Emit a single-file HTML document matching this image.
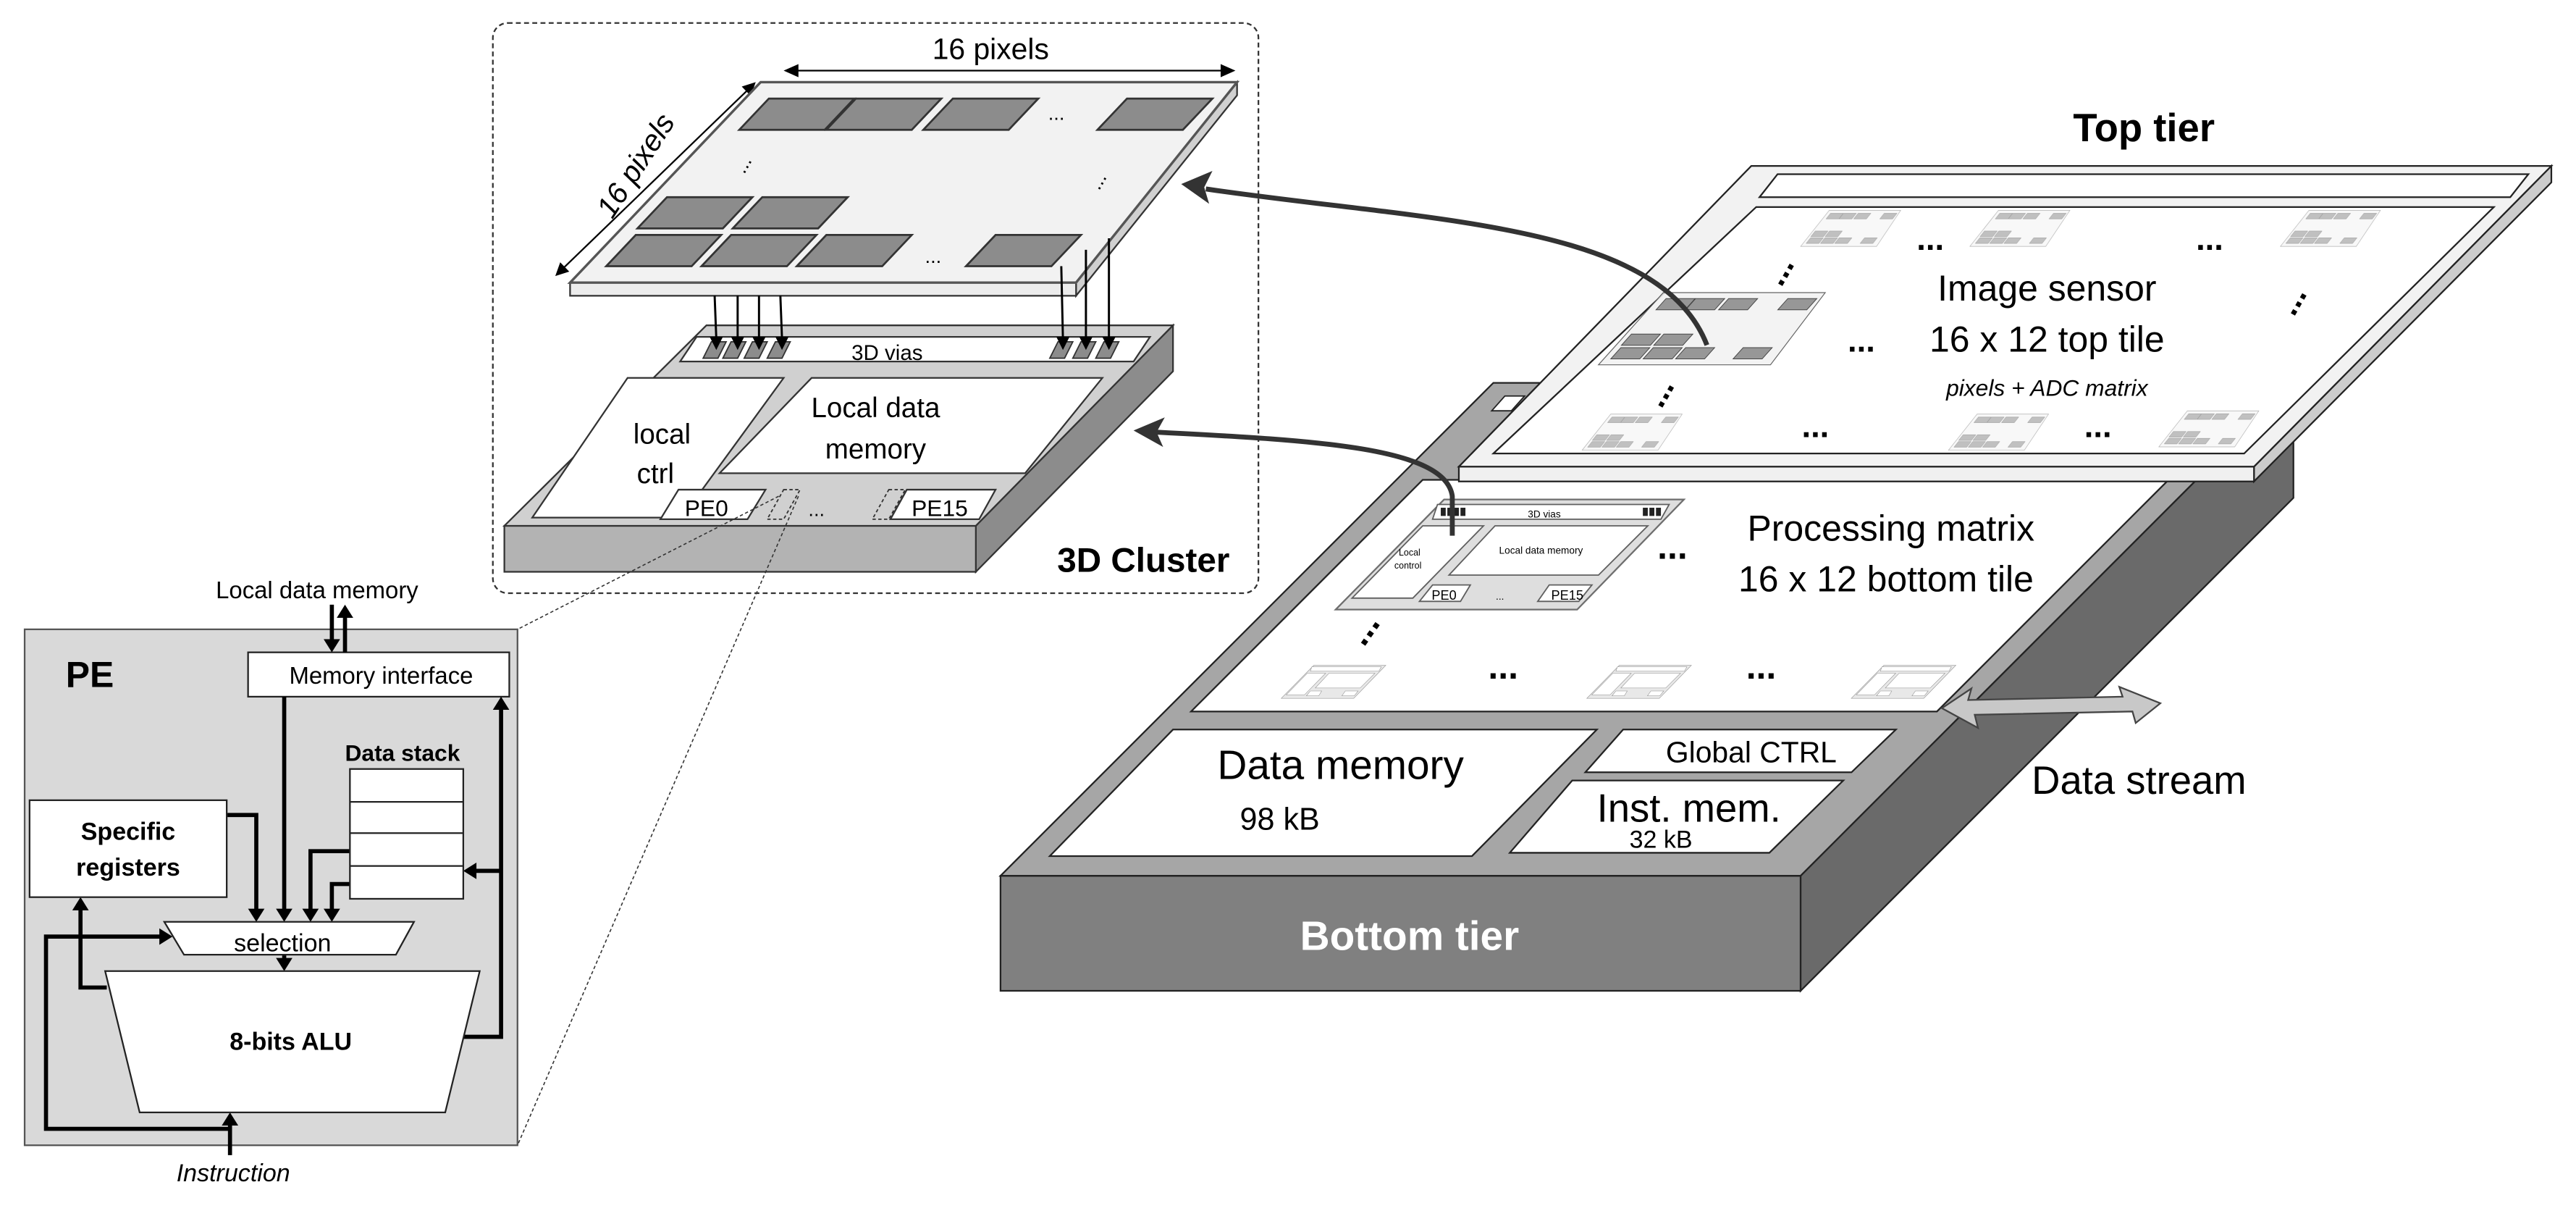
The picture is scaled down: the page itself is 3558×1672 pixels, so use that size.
<!DOCTYPE html>
<html><head><meta charset="utf-8"><style>
html,body{margin:0;padding:0;background:#fff;}
svg{display:block;}
text{font-family:"Liberation Sans",sans-serif;}
</style></head><body>
<svg width="3558" height="1672" viewBox="0 0 1568 737" preserveAspectRatio="none" xmlns="http://www.w3.org/2000/svg">
<defs>
<g id="pt">
<polygon points="463,50 753,50 655,172 347,172" fill="#f2f2f2" stroke="#555" stroke-width="1.5"/>
<g fill="#8c8c8c" stroke="#333" stroke-width="1.2">
<polygon points="468,60 520,60 502,79 450,79"/><polygon points="521,60 573,60 555,79 503,79"/><polygon points="580,60 632,60 614,79 562,79"/><polygon points="686,60 738,60 720,79 668,79"/>
<polygon points="406,120 458,120 440,139 388,139"/><polygon points="464,120 516,120 498,139 446,139"/>
<polygon points="387,143 439,143 421,162 369,162"/><polygon points="445,143 497,143 479,162 427,162"/><polygon points="503,143 555,143 537,162 485,162"/><polygon points="606,143 658,143 640,162 588,162"/>
</g></g>
<g id="ct">
<polygon points="879,304 1025,304 960,371 813,371" fill="#d9d9d9" stroke="#555" stroke-width="1"/>
<polygon points="875,307 1016,307 1011,316 872,316" fill="#fff" stroke="#444" stroke-width="0.8"/>
<polygon points="866,320 903,320 860,364 823,364" fill="#fff" stroke="#444" stroke-width="0.8"/>
<polygon points="910,320 1003,320 973,350 882,350" fill="#fff" stroke="#444" stroke-width="0.8"/>
<polygon points="872,356 895,356 889,366 864,366" fill="#fff" stroke="#444" stroke-width="0.8"/>
<polygon points="943,356 969,356 961,366 936,366" fill="#fff" stroke="#444" stroke-width="0.8"/>
</g>
</defs>

<!-- 3D cluster dashed box -->
<rect x="300" y="14" width="466" height="347" rx="9" fill="none" stroke="#333" stroke-width="1" stroke-dasharray="3,2"/>
<text x="603" y="36" font-size="18" text-anchor="middle">16 pixels</text>
<line x1="480" y1="43" x2="749" y2="43" stroke="#000" stroke-width="1"/>
<polygon points="477,43 486,39 486,47" fill="#000"/><polygon points="752,43 743,39 743,47" fill="#000"/>
<line x1="458" y1="52" x2="340" y2="166" stroke="#000" stroke-width="1"/>
<polygon points="460,50 457,58.4 451.5,52.7" fill="#000"/><polygon points="338,168 346.5,165.3 341,159.6" fill="#000"/>
<text x="0" y="0" font-size="18" font-style="italic" text-anchor="middle" transform="translate(392,104) rotate(-57)">16 pixels</text>
<!-- pixel plate -->
<polygon points="655,172 753,50 753,58 655,180" fill="#d0d0d0" stroke="#333" stroke-width="1"/>
<rect x="347" y="172" width="308" height="8" fill="#ececec" stroke="#333" stroke-width="1"/>
<use href="#pt"/>
<text x="643" y="73" font-size="12" text-anchor="middle">...</text>
<text x="568" y="160" font-size="12" text-anchor="middle">...</text>
<text x="452" y="104" font-size="12" text-anchor="middle" transform="rotate(-60 452 100)">...</text>
<text x="668" y="114" font-size="12" text-anchor="middle" transform="rotate(-60 668 110)">...</text>

<!-- cluster base -->
<polygon points="594,320 714,198 714,226 594,348" fill="#8c8c8c" stroke="#333" stroke-width="1"/>
<rect x="307" y="320" width="287" height="28" fill="#b3b3b3" stroke="#333" stroke-width="1"/>
<polygon points="430,198 714,198 594,320 307,320" fill="#d0d0d0" stroke="#333" stroke-width="1"/>
<polygon points="424,205 700,205 690,220 414,220" fill="#fff" stroke="#333" stroke-width="1"/>
<g fill="#8c8c8c" stroke="#333" stroke-width="0.8">
<polygon points="433,208 442,208 437,218 428,218"/><polygon points="445,208 454,208 449,218 440,218"/><polygon points="458,208 467,208 462,218 453,218"/><polygon points="472,208 481,208 476,218 467,218"/>
<polygon points="644,208 653,208 648,218 639,218"/><polygon points="658,208 667,208 662,218 653,218"/><polygon points="672,208 681,208 676,218 667,218"/>
</g>
<text x="540" y="219" font-size="13" text-anchor="middle">3D vias</text>
<g stroke="#000" stroke-width="1.3">
<line x1="435" y1="180" x2="436" y2="206"/><line x1="449" y1="180" x2="449" y2="206"/><line x1="462" y1="180" x2="462" y2="206"/><line x1="475" y1="180" x2="476" y2="206"/>
<line x1="646" y1="162" x2="647" y2="206"/><line x1="661" y1="152" x2="661" y2="206"/><line x1="675" y1="145" x2="675" y2="206"/>
</g>
<g fill="#000">
<polygon points="436,213 432,205 440,205"/><polygon points="449,213 445,205 453,205"/><polygon points="462,213 458,205 466,205"/><polygon points="476,213 472,205 480,205"/>
<polygon points="647,213 643,205 651,205"/><polygon points="661,213 657,205 665,205"/><polygon points="675,213 671,205 679,205"/>
</g>
<polygon points="382,230 477,230 415,315 324,315" fill="#fff" stroke="#333" stroke-width="1"/>
<text x="403" y="270" font-size="17" text-anchor="middle">local</text>
<text x="399" y="294" font-size="17" text-anchor="middle">ctrl</text>
<polygon points="494,230 671,230 624,288 438,288" fill="#fff" stroke="#333" stroke-width="1"/>
<text x="533" y="254" font-size="17" text-anchor="middle">Local data</text>
<text x="533" y="279" font-size="17" text-anchor="middle">memory</text>
<polygon points="413,298 466,298 455,316 402,316" fill="#fff" stroke="#333" stroke-width="1"/>
<text x="430" y="314" font-size="14" text-anchor="middle">PE0</text>
<polygon points="477,298 487,298 477,316 467,316" fill="none" stroke="#333" stroke-width="0.8" stroke-dasharray="2,1.5"/>
<polygon points="541,298 551,298 541,316 531,316" fill="none" stroke="#333" stroke-width="0.8" stroke-dasharray="2,1.5"/>
<polygon points="552,298 606,298 596,316 542,316" fill="#fff" stroke="#333" stroke-width="1"/>
<text x="572" y="314" font-size="14" text-anchor="middle">PE15</text>
<text x="497" y="314" font-size="12" text-anchor="middle">...</text>
<text x="696" y="348" font-size="21" font-weight="bold" text-anchor="middle">3D Cluster</text>

<!-- dotted zoom lines -->
<line x1="474" y1="302" x2="315" y2="383" stroke="#333" stroke-width="0.7" stroke-dasharray="2,1.5"/>
<line x1="486" y1="302" x2="315" y2="697" stroke="#333" stroke-width="0.7" stroke-dasharray="2,1.5"/>

<!-- PE -->
<text x="193" y="364" font-size="14.5" text-anchor="middle">Local data memory</text>
<rect x="15" y="383" width="300" height="314" fill="#d9d9d9" stroke="#555" stroke-width="1"/>
<text x="40" y="418" font-size="22" font-weight="bold">PE</text>
<rect x="151" y="397" width="159" height="27" fill="#fff" stroke="#222" stroke-width="1"/>
<text x="232" y="416" font-size="14.5" text-anchor="middle">Memory interface</text>
<g stroke="#000" stroke-width="2.5" fill="none">
<line x1="202" y1="368" x2="202" y2="390"/>
<line x1="210" y1="397" x2="210" y2="376"/>
<line x1="173" y1="424" x2="173" y2="554"/>
<polyline points="138,496 156,496 156,554"/>
<polyline points="213,518 189,518 189,554"/>
<polyline points="213,538 202,538 202,554"/>
<line x1="173" y1="581" x2="173" y2="585"/>
<polyline points="282,631 305,631 305,431"/>
<polyline points="305,530 289,530"/>
<polyline points="65,601 49,601 49,553"/>
<line x1="140" y1="703" x2="140" y2="684"/>
<polyline points="140,687 28,687 28,570 98,570"/>
</g>
<g fill="#000">
<polygon points="202,397 197,389 207,389"/>
<polygon points="210,368 205,376 215,376"/>
<polygon points="173,561 168,553 178,553"/>
<polygon points="156,561 151,553 161,553"/>
<polygon points="189,561 184,553 194,553"/>
<polygon points="202,561 197,553 207,553"/>
<polygon points="173,591 168,583 178,583"/>
<polygon points="305,424 300,432 310,432"/>
<polygon points="282,530 290,525 290,535"/>
<polygon points="49,546 44,554 54,554"/>
<polygon points="140,677 135,685 145,685"/>
<polygon points="105,570 97,565 97,575"/>
</g>
<text x="245" y="463" font-size="14" font-weight="bold" text-anchor="middle">Data stack</text>
<rect x="213" y="468" width="69" height="79" fill="#fff" stroke="#222" stroke-width="1"/>
<line x1="213" y1="488" x2="282" y2="488" stroke="#222" stroke-width="1"/>
<line x1="213" y1="507" x2="282" y2="507" stroke="#222" stroke-width="1"/>
<line x1="213" y1="527" x2="282" y2="527" stroke="#222" stroke-width="1"/>
<rect x="18" y="487" width="120" height="59" fill="#fff" stroke="#222" stroke-width="1"/>
<text x="78" y="511" font-size="15" font-weight="bold" text-anchor="middle">Specific</text>
<text x="78" y="533" font-size="15" font-weight="bold" text-anchor="middle">registers</text>
<polygon points="100,561 252,561 241,581 112,581" fill="#fff" stroke="#222" stroke-width="1"/>
<text x="172" y="579" font-size="15" text-anchor="middle">selection</text>
<polygon points="64,591 292,591 271,677 85,677" fill="#fff" stroke="#222" stroke-width="1"/>
<text x="177" y="639" font-size="15" font-weight="bold" text-anchor="middle">8-bits ALU</text>
<text x="142" y="719" font-size="15" font-style="italic" text-anchor="middle">Instruction</text>

<!-- Bottom tier -->
<polygon points="1096,533 1396,233 1396,303 1096,603" fill="#6a6a6a" stroke="#222" stroke-width="1"/>
<rect x="609" y="533" width="487" height="70" fill="#808080" stroke="#222" stroke-width="1"/>
<polygon points="909,233 1396,233 1096,533 609,533" fill="#a6a6a6" stroke="#222" stroke-width="1"/>
<polygon points="866,292 1320,292 1179,433 725,433" fill="#fff" stroke="#222" stroke-width="1"/>
<polygon points="916,241 928,241 920,250 908,250" fill="#fff" stroke="#222" stroke-width="0.8"/>
<polygon points="714,444 972,444 896,521 639,521" fill="#fff" stroke="#222" stroke-width="1"/>
<polygon points="988,444 1154,444 1127,470 965,470" fill="#fff" stroke="#222" stroke-width="1"/>
<polygon points="957,475 1122,475 1077,519 919,519" fill="#fff" stroke="#222" stroke-width="1"/>
<text x="816" y="474" font-size="25" text-anchor="middle">Data memory</text>
<text x="779" y="505" font-size="19" text-anchor="middle">98 kB</text>
<text x="1066" y="464" font-size="18" text-anchor="middle">Global CTRL</text>
<text x="1028" y="500" font-size="24" text-anchor="middle">Inst. mem.</text>
<text x="1011" y="516" font-size="15" text-anchor="middle">32 kB</text>
<text x="858" y="578" font-size="25" font-weight="bold" fill="#fff" text-anchor="middle">Bottom tier</text>
<text x="1302" y="483" font-size="24" text-anchor="middle">Data stream</text>
<polygon points="1182,431 1200,419 1198,426 1292,424 1290,418 1315,428 1300,440 1298,433 1202,435 1204,443" fill="#c8c8c8" stroke="#444" stroke-width="1"/>
<!-- processing matrix tiles -->
<use href="#ct" opacity="0.85"/>
<g fill="#222"><rect x="877" y="309" width="3" height="5"/><rect x="881" y="309" width="3" height="5"/><rect x="885" y="309" width="3" height="5"/><rect x="889" y="309" width="3" height="5"/><rect x="1000" y="309" width="3" height="5"/><rect x="1004" y="309" width="3" height="5"/><rect x="1008" y="309" width="3" height="5"/></g>
<text x="940" y="315" font-size="6" text-anchor="middle">3D vias</text>
<text x="858" y="338" font-size="5.5" text-anchor="middle">Local</text>
<text x="857" y="346" font-size="5.5" text-anchor="middle">control</text>
<text x="938" y="337" font-size="6" text-anchor="middle">Local data memory</text>
<text x="879" y="365" font-size="8" text-anchor="middle">PE0</text>
<text x="954" y="365" font-size="8" text-anchor="middle">PE15</text>
<text x="913" y="365" font-size="6" text-anchor="middle">...</text>
<use href="#ct" transform="translate(536,313.7) scale(0.3)" opacity="0.6"/>
<use href="#ct" transform="translate(722,313.7) scale(0.3)" opacity="0.6"/>
<use href="#ct" transform="translate(883,313.7) scale(0.3)" opacity="0.6"/>
<g font-size="22" font-weight="bold" text-anchor="middle">
<text x="1018" y="340">...</text><text x="915" y="413">...</text><text x="1072" y="413">...</text>
<text x="833" y="388" transform="rotate(-55 833 385)">...</text>
</g>
<text x="1151" y="329" font-size="22" text-anchor="middle">Processing matrix</text>
<text x="1148" y="360" font-size="22" text-anchor="middle">16 x 12 bottom tile</text>

<!-- Top tier -->
<text x="1305" y="86" font-size="24" font-weight="bold" text-anchor="middle">Top tier</text>
<polygon points="1372,284 1553,101 1553,111 1372,293" fill="#ccc" stroke="#222" stroke-width="1"/>
<rect x="888" y="284" width="484" height="9" fill="#f0f0f0" stroke="#222" stroke-width="1"/>
<polygon points="1066,101 1553,101 1372,284 888,284" fill="#f2f2f2" stroke="#222" stroke-width="1"/>
<polygon points="1082,106 1539,106 1528,120 1071,120" fill="#fff" stroke="#222" stroke-width="1"/>
<polygon points="1069,126 1518,126 1366,276 909,276" fill="#fff" stroke="#222" stroke-width="1"/>
<use href="#pt" transform="translate(855,160.1) scale(0.34,0.36)" opacity="0.9"/>
<g opacity="0.55">
<use href="#pt" transform="translate(1044,119) scale(0.15,0.18)"/>
<use href="#pt" transform="translate(1147,119) scale(0.15,0.18)"/>
<use href="#pt" transform="translate(1336,119) scale(0.15,0.18)"/>
<use href="#pt" transform="translate(911,243) scale(0.15,0.18)"/>
<use href="#pt" transform="translate(1134,243) scale(0.15,0.18)"/>
<use href="#pt" transform="translate(1262,241) scale(0.15,0.18)"/>
</g>
<g font-size="20" font-weight="bold" text-anchor="middle">
<text x="1175" y="152">...</text><text x="1345" y="152">...</text><text x="1133" y="214">...</text>
<text x="1105" y="266">...</text><text x="1277" y="266">...</text>
<text x="1085" y="170" transform="rotate(-60 1085 166)">...</text>
<text x="1397" y="188" transform="rotate(-60 1397 184)">...</text>
<text x="1012" y="244" transform="rotate(-60 1012 240)">...</text>
</g>
<text x="1246" y="183" font-size="22" text-anchor="middle">Image sensor</text>
<text x="1246" y="214" font-size="22" text-anchor="middle">16 x 12 top tile</text>
<text x="1246" y="241" font-size="14" font-style="italic" text-anchor="middle">pixels + ADC matrix</text>

<!-- curved arrows -->
<path d="M1039,210 C1010,135 870,135 734,115" fill="none" stroke="#333" stroke-width="3"/>
<polygon points="719,112 738,104 733,114 736,124" fill="#333"/>
<path d="M884,326 L884,302 C880,272 800,268 704,263" fill="none" stroke="#333" stroke-width="3"/>
<polygon points="690,262 709,254 704,263 708,272" fill="#333"/>
</svg>
</body></html>
